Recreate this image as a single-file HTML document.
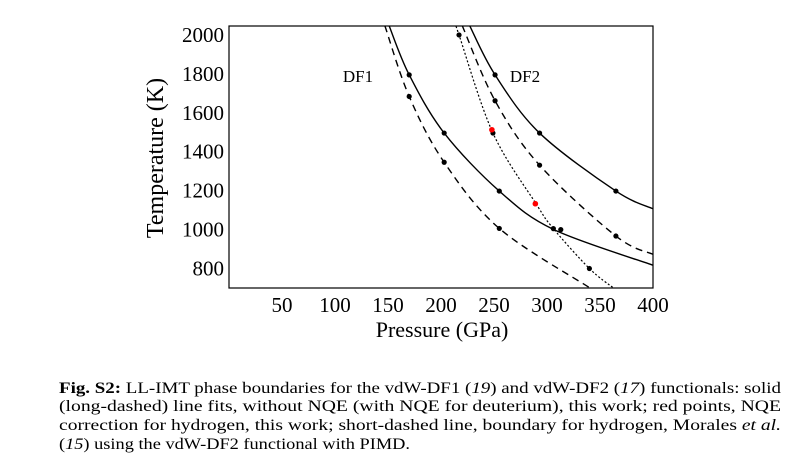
<!DOCTYPE html>
<html><head><meta charset="utf-8"><style>
html,body{margin:0;padding:0;background:#fff;}
svg{display:block;font-family:"Liberation Serif",serif;}
</style></head><body>
<svg id="chart" width="796" height="475" viewBox="0 0 796 475">
<g id="plot"></g>
<g id="axes"></g>
<text x="442" y="337" font-size="22" text-anchor="middle">Pressure (GPa)</text>
<text transform="translate(163,158) rotate(-90)" font-size="24" text-anchor="middle">Temperature  (K)</text>
<text x="358" y="82" font-size="17" text-anchor="middle">DF1</text>
<text x="525" y="82" font-size="17" text-anchor="middle">DF2</text>
<g font-size="16">
<text x="59" y="393" textLength="722" lengthAdjust="spacingAndGlyphs"><tspan font-weight="bold">Fig. S2:</tspan> LL-IMT phase boundaries for the vdW-DF1 (<tspan font-style="italic">19</tspan>) and vdW-DF2 (<tspan font-style="italic">17</tspan>) functionals: solid</text>
<text x="59" y="411" textLength="722" lengthAdjust="spacingAndGlyphs">(long-dashed) line fits, without NQE (with NQE for deuterium), this work; red points, NQE</text>
<text x="59" y="430" textLength="722" lengthAdjust="spacingAndGlyphs">correction for hydrogen, this work; short-dashed line, boundary for hydrogen, Morales <tspan font-style="italic">et al.</tspan></text>
<text x="59" y="449" textLength="351" lengthAdjust="spacingAndGlyphs">(<tspan font-style="italic">15</tspan>) using the vdW-DF2 functional with PIMD.</text>
</g>
</svg>
<script>
const xTicks = [50,100,150,200,250,300,350,400];
const yTicks = [800,1000,1200,1400,1600,1800,2000];
const df1SolidP = [151,170,203,255,306,400];
const df1SolidT = [2048,1795,1496,1198,1001,817];
const df1DashP = [147,170,203,255,340];
const df1DashT = [2048,1684,1346,1006,702];
const df2SolidP = [227,251,293,365,400];
const df2SolidT = [2048,1795,1496,1198,1107];
const df2DashP = [220,251,293,365,400];
const df2DashT = [2048,1662,1331,967,873];
const moralesP = [214,217,249,290,306,340,362];
const moralesT = [2048,2000,1496,1130,1005,800,703];
const blackP = [170,170,203,203,255,255,251,251,293,293,365,365,217,249,306,313,340];
const blackT = [1795,1684,1496,1346,1198,1006,1795,1662,1496,1331,1198,967,2000,1496,1005,1000,800];
const redP = [248,289];
const redT = [1513,1133];

const L=229,R=653,T=26,B=288;
const X0=0,X1=400,Y0=700,Y1=2046;
const sx=p=>L+(p-X0)/(X1-X0)*(R-L);
const sy=t=>B-(t-Y0)/(Y1-Y0)*(B-T);
const NS="http://www.w3.org/2000/svg";
const plot=document.getElementById('plot');
const axes=document.getElementById('axes');

const cp=document.createElementNS(NS,'clipPath');cp.id='clip';
const cr=document.createElementNS(NS,'rect');
cr.setAttribute('x',L);cr.setAttribute('y',T);cr.setAttribute('width',R-L);cr.setAttribute('height',B-T);
cp.appendChild(cr);plot.appendChild(cp);
plot.setAttribute('clip-path','url(#clip)');

function curve(P,Tv,dash,w,name){
  const pts=P.map((p,i)=>[sx(p),sy(Tv[i])]);
  let d='M'+pts[0][0]+','+pts[0][1];
  for(let i=0;i<pts.length-1;i++){
    const p0=pts[i-1]||pts[i],p1=pts[i],p2=pts[i+1],p3=pts[i+2]||p2;
    const c1=[p1[0]+(p2[0]-p0[0])/6,p1[1]+(p2[1]-p0[1])/6];
    const c2=[p2[0]-(p3[0]-p1[0])/6,p2[1]-(p3[1]-p1[1])/6];
    d+=' C'+c1+' '+c2+' '+p2;
  }
  const el=document.createElementNS(NS,'path');
  el.setAttribute('d',d);el.setAttribute('fill','none');el.setAttribute('stroke','#000');
  el.setAttribute('stroke-width',w);if(dash)el.setAttribute('stroke-dasharray',dash);
  
  
  plot.appendChild(el);
}
curve(df1SolidP,df1SolidT,null,1.4,'df1-solid-line');
curve(df1DashP,df1DashT,'7,5',1.4,'df1-dashed-line');
curve(df2SolidP,df2SolidT,null,1.4,'df2-solid-line');
curve(df2DashP,df2DashT,'7,5',1.4,'df2-dashed-line');
curve(moralesP,moralesT,'2,2',1.2,'morales-dotted-line');

blackP.forEach((p,i)=>{
  const c=document.createElementNS(NS,'circle');
  c.setAttribute('cx',sx(p));c.setAttribute('cy',sy(blackT[i]));c.setAttribute('r',2.6);c.setAttribute('fill','#000');
  
  
  plot.appendChild(c);
});
redP.forEach((p,i)=>{
  const c=document.createElementNS(NS,'circle');
  c.setAttribute('cx',sx(p));c.setAttribute('cy',sy(redT[i]));c.setAttribute('r',2.8);c.setAttribute('fill','#f00');
  
  
  plot.appendChild(c);
});

const fr=document.createElementNS(NS,'rect');
fr.setAttribute('x',L);fr.setAttribute('y',T);fr.setAttribute('width',R-L);fr.setAttribute('height',B-T);
fr.setAttribute('fill','none');fr.setAttribute('stroke','#000');fr.setAttribute('stroke-width',1.2);


axes.appendChild(fr);

xTicks.forEach(v=>{
  const t=document.createElementNS(NS,'text');
  t.setAttribute('x',sx(v));t.setAttribute('y',312);t.setAttribute('font-size',21);t.setAttribute('text-anchor','middle');
  t.textContent=v;
  
  
  axes.appendChild(t);
});
yTicks.forEach(v=>{
  const t=document.createElementNS(NS,'text');
  t.setAttribute('x',L-5);t.setAttribute('y',sy(v)+7);t.setAttribute('font-size',21);t.setAttribute('text-anchor','end');
  t.textContent=v;
  
  
  axes.appendChild(t);
});
</script>
</body></html>
